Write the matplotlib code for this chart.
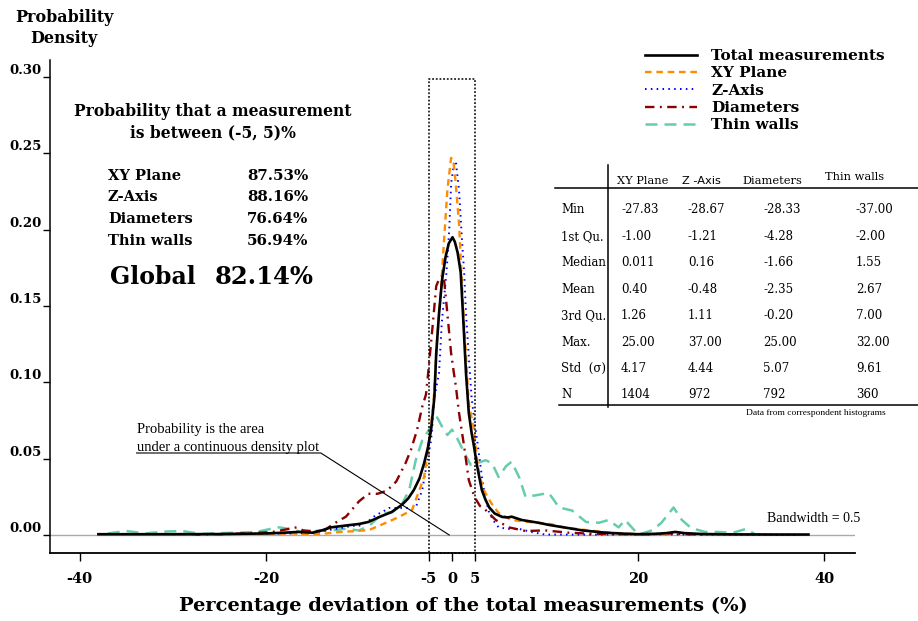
import matplotlib
matplotlib.use('Agg')
import matplotlib.pyplot as plt
from matplotlib.patches import Rectangle
from matplotlib.lines import Line2D

plt.rcParams['font.family'] = 'DejaVu Serif'
plt.rcParams['axes.unicode_minus'] = False

# ---------------- data ----------------
total_x = [-38, -30, -25, -20, -18, -16.5, -15, -14, -13, -11, -10, -9, -7.8, -6.5,
           -5.4, -4.7, -4.1, -3.5, -3, -2.6, -2.25, -1.9, -1.7, -1.4, -1.07, -0.7,
           -0.35, 0.05, 0.3, 0.6, 0.93, 1.2, 1.5, 1.8, 2.1, 2.36, 2.7, 3.2, 3.6, 4.0,
           4.6, 5.4, 6.0, 6.4, 7.0, 7.5, 8.3, 9.3, 10.5, 11.5, 12.5, 14, 16.5, 18,
           20, 22, 23, 24, 25, 27, 30, 35, 38.3]
total_y = [0.0005, 0.0005, 0.0006, 0.001, 0.0015, 0.002, 0.0015, 0.003, 0.005, 0.0065,
           0.0072, 0.0085, 0.0118, 0.015, 0.0197, 0.024, 0.0295, 0.037, 0.047, 0.057,
           0.069, 0.090, 0.119, 0.145, 0.167, 0.182, 0.191, 0.195, 0.192, 0.185, 0.172,
           0.142, 0.106, 0.080, 0.067, 0.058, 0.045, 0.0295, 0.023, 0.018, 0.014,
           0.0118, 0.0115, 0.012, 0.0108, 0.0098, 0.009, 0.008, 0.0065, 0.0055, 0.0045,
           0.003, 0.0015, 0.001, 0.0005, 0.0008, 0.0012, 0.002, 0.0012, 0.0006, 0.0004,
           0.0003, 0.0003]

xy_x = [-29.5, -25, -20, -17, -15, -13.5, -12, -10.5, -8.9, -7.1, -5.7, -4.3, -3.5, -3,
        -2.5, -2.1, -1.9, -1.6, -1.2, -0.86, -0.5, -0.1, 0.15, 0.4, 0.75, 1.1, 1.5, 1.8,
        2.36, 2.6, 2.9, 3.4, 4.2, 5.0, 6.4, 8.3, 10.0, 10.7, 12, 14.7, 17, 19, 21, 23.5]
xy_y = [0.0002, 0.0005, 0.0008, 0.001, 0.0005, 0.001, 0.002, 0.0025, 0.0033, 0.008,
        0.0118, 0.0164, 0.0295, 0.038, 0.060, 0.080, 0.095, 0.128, 0.160, 0.193, 0.226,
        0.247, 0.245, 0.230, 0.204, 0.160, 0.117, 0.086, 0.069, 0.054, 0.040, 0.0295,
        0.021, 0.0144, 0.0098, 0.0085, 0.0075, 0.007, 0.005, 0.003, 0.0015, 0.0008,
        0.0005, 0.0003]

z_x = [-30, -25, -20, -17, -15, -13.5, -12, -10.7, -10, -9, -8.2, -7.5, -6.8, -5.7,
       -4.5, -3.9, -3.2, -2.7, -2.25, -1.9, -1.4, -1.1, -0.6, -0.3, -0.1, 0.2, 0.4,
       0.75, 1.07, 1.3, 1.5, 1.8, 2.1, 2.4, 2.7, 3.0, 3.3, 3.6, 4.0, 4.5, 5.0, 6.0,
       7.2, 8.5, 10, 15, 20, 25, 30, 35, 37]
z_y = [0.0005, 0.0007, 0.0009, 0.001, 0.0012, 0.003, 0.0045, 0.006, 0.006, 0.009,
       0.013, 0.015, 0.0177, 0.0177, 0.0177, 0.018, 0.0295, 0.047, 0.062, 0.090, 0.106,
       0.139, 0.172, 0.200, 0.230, 0.243, 0.245, 0.226, 0.193, 0.172, 0.145, 0.117,
       0.090, 0.075, 0.062, 0.048, 0.034, 0.024, 0.0144, 0.009, 0.005, 0.004, 0.004,
       0.002, 0.0003, 0.0002, 0.0005, 0.0003, 0.0003, 0.0002, 0.0001]

dia_x = [-28, -25, -22, -19.3, -17.5, -16.7, -16, -14, -12.4, -11.4, -10, -9, -8, -7,
         -6, -5, -4.4, -3.75, -3.2, -2.8, -2.5, -2.1, -1.7, -1.3, -0.9, -0.5, -0.1,
         0.2, 0.4, 0.75, 1.3, 1.8, 2.4, 3.0, 3.6, 4.7, 6.1, 7.9, 10, 12.5, 15, 18, 21,
         23.6, 25, 27]
dia_y = [0.0003, 0.0005, 0.001, 0.002, 0.004, 0.005, 0.003, 0.002, 0.0085, 0.012,
         0.022, 0.027, 0.027, 0.029, 0.035, 0.047, 0.056, 0.069, 0.084, 0.092, 0.110,
         0.136, 0.163, 0.169, 0.170, 0.145, 0.119, 0.106, 0.098, 0.080, 0.058, 0.036,
         0.025, 0.019, 0.0164, 0.0098, 0.005, 0.0026, 0.003, 0.0015, 0.0008, 0.0005,
         0.0005, 0.001, 0.0005, 0.0003]

thin_x = [-37, -35, -33, -31, -29, -27, -25, -23, -21, -19.5, -18.6, -17.5, -15.7,
          -14.3, -12.9, -11.5, -10, -8.9, -7.5, -6.4, -5.4, -4.6, -3.9, -3.2, -2.25,
          -1.6, -1.07, -0.5, 0, 0.5, 1.3, 2, 2.7, 3.6, 4.3, 5, 5.8, 6.4, 7.2, 7.9, 9,
          10.4, 11.5, 12.9, 14.4, 15.8, 16.8, 17.9, 18.6, 20, 21.5, 22.5, 23.8, 24.7,
          25.7, 27.2, 28.6, 30.1, 31.6, 32.6]
thin_y = [0.001, 0.0026, 0.001, 0.0022, 0.0026, 0.0007, 0.0012, 0.0015, 0.002, 0.004,
          0.005, 0.004, 0.0013, 0.003, 0.003, 0.004, 0.003, 0.006, 0.014, 0.015, 0.020,
          0.0295, 0.049, 0.062, 0.071, 0.077, 0.071, 0.0655, 0.069, 0.064, 0.054,
          0.046, 0.047, 0.049, 0.047, 0.038, 0.045, 0.048, 0.038, 0.025, 0.026,
          0.0275, 0.018, 0.016, 0.0085, 0.008, 0.0098, 0.005, 0.0098, 0.0003, 0.003,
          0.008, 0.018, 0.0098, 0.0045, 0.002, 0.002, 0.0013, 0.004, 0.0003]

# in the reference the "-5" / "5" ticks and the box sit at +-2.5 on the drawn scale
tick_pos = [-40, -20, -2.5, 0, 2.5, 20, 40]
tick_lab = ['-40', '-20', '-5', '0', '5', '20', '40']
box_lo, box_hi = -2.5, 2.5

prob_labels = ['XY Plane', 'Z-Axis', 'Diameters', 'Thin walls']
prob_values = ['87.53%', '88.16%', '76.64%', '56.94%']
global_value = '82.14%'

table_cols = ['XY Plane', 'Z -Axis', 'Diameters', 'Thin walls']
table_rows = ['Min', '1st Qu.', 'Median', 'Mean', '3rd Qu.', 'Max.', 'Std  (σ)', 'N']
table_vals = [
    ['-27.83', '-1.00', '0.011', '0.40', '1.26', '25.00', '4.17', '1404'],
    ['-28.67', '-1.21', '0.16', '-0.48', '1.11', '37.00', '4.44', '972'],
    ['-28.33', '-4.28', '-1.66', '-2.35', '-0.20', '25.00', '5.07', '792'],
    ['-37.00', '-2.00', '1.55', '2.67', '7.00', '32.00', '9.61', '360'],
]

W, H = 918, 621


def fx(px):
    return px / W


def fy(py):
    return 1 - py / H


fig = plt.figure(figsize=(W / 100, H / 100), dpi=100, facecolor='white')
ax = fig.add_axes([fx(50), fy(553), 805 / W, 493 / H])

ax.axhline(0, color='#aaaaaa', lw=1, zorder=1)

ax.plot(total_x, total_y, color='black', lw=1.9, label='Total measurements', zorder=6)
ax.plot(xy_x, xy_y, color='darkorange', lw=1.7, dashes=(2.8, 2.0), label='XY Plane', zorder=5)
ax.plot(z_x, z_y, color='blue', lw=1.4, dashes=(0.8, 2.2), label='Z-Axis', zorder=4)
ax.plot(dia_x, dia_y, color='darkred', lw=1.7, dashes=(4.0, 2.3, 0.8, 2.3),
        label='Diameters', zorder=4)
ax.plot(thin_x, thin_y, color='mediumaquamarine', lw=1.8, dashes=(4.8, 2.8),
        label='Thin walls', zorder=3)

# dotted box around the (-5, 5) window
ax.add_patch(Rectangle((box_lo, -0.0118), box_hi - box_lo, 0.3105, fill=False, lw=1.1,
                       ls=(0, (1.2, 1.2)), ec='black', zorder=7, clip_on=False))

# annotation pointer
ax.plot([-33.9, -14.1, -0.3], [0.0537, 0.0537, 0.0], color='black', lw=0.8, zorder=8)

ax.set_xlim(-43.2, 43.3)
ax.set_ylim(-0.0118, 0.3111)
ax.spines['top'].set_visible(False)
ax.spines['right'].set_visible(False)
ax.spines['left'].set_linewidth(1.1)
ax.spines['bottom'].set_linewidth(1.3)

ax.set_xticks(tick_pos)
ax.set_xticklabels(tick_lab, fontweight='bold', fontsize=10.5)
ax.set_yticks([0, 0.05, 0.10, 0.15, 0.20, 0.25, 0.30])
ax.set_yticklabels(['0.00', '0.05', '0.10', '0.15', '0.20', '0.25', '0.30'],
                   fontweight='bold', fontsize=9.5)
for lab in ax.get_yticklabels():
    lab.set_verticalalignment('bottom')
ax.tick_params(axis='y', length=5, width=1, pad=1)
ax.tick_params(axis='x', length=6, width=1, pad=8)

ax.set_xlabel('Percentage deviation of the total measurements (%)', fontsize=14,
              fontweight='bold')
ax.xaxis.set_label_coords((463 - 50) / 805, -(606 - 553) / 493)
ax.xaxis.label.set_verticalalignment('center')
fig.text(fx(64), fy(28), 'Probability\nDensity', ha='center', va='center', fontsize=11.5,
         fontweight='bold', linespacing=1.35)

# legend
ax.legend(loc='upper left', bbox_to_anchor=(fx(645), fy(49)), bbox_transform=fig.transFigure,
          frameon=False, prop={'weight': 'bold', 'size': 11}, labelspacing=0.22,
          handlelength=3.4, handletextpad=0.95, borderpad=0, borderaxespad=0)

# probability text block
fig.text(fx(213), fy(112), 'Probability that a measurement', ha='center', va='center',
         fontsize=11.2, fontweight='bold')
fig.text(fx(213), fy(133), 'is between (-5, 5)%', ha='center', va='center',
         fontsize=11.2, fontweight='bold')
for i, (lab, val) in enumerate(zip(prob_labels, prob_values)):
    yy = [176, 197, 219, 241][i]
    fig.text(fx(108), fy(yy), lab, ha='left', va='center', fontsize=10.5, fontweight='bold')
    fig.text(fx(247), fy(yy), val, ha='left', va='center', fontsize=10.8, fontweight='bold')
fig.text(fx(110), fy(277), 'Global', ha='left', va='center', fontsize=17, fontweight='bold')
fig.text(fx(215), fy(277), global_value, ha='left', va='center', fontsize=17.5, fontweight='bold')

fig.text(fx(137), fy(430), 'Probability is the area', ha='left', va='center',
         fontsize=10.5, family='Liberation Serif')
fig.text(fx(137), fy(447), 'under a continuous density plot', ha='left', va='center',
         fontsize=10.5, family='Liberation Serif')
fig.text(fx(767), fy(519), 'Bandwidth = 0.5', ha='left', va='center', fontsize=10,
         family='Liberation Serif')

# summary table
head_x = [617, 682, 742, 825]
val_x = [621, 688, 763, 856]
row_y = [210, 236.5, 263, 289, 315.5, 342, 368, 394.5]
for j, col in enumerate(table_cols):
    fam = 'DejaVu Sans' if col.startswith('Z') else 'DejaVu Serif'
    fig.text(fx(head_x[j]), fy(181 if j < 3 else 177), col, ha='left', va='center',
             fontsize=8.2, family=fam)
for i, rname in enumerate(table_rows):
    fig.text(fx(561), fy(row_y[i]), rname, ha='left', va='center', fontsize=8.5)
    for j in range(4):
        fig.text(fx(val_x[j]), fy(row_y[i]), table_vals[j][i], ha='left', va='center',
                 fontsize=8.5)
fig.add_artist(Line2D([fx(608), fx(608)], [fy(165), fy(407)], color='black', lw=1.1))
fig.add_artist(Line2D([fx(555), fx(918)], [fy(188), fy(188)], color='black', lw=1.1))
fig.add_artist(Line2D([fx(559), fx(918)], [fy(405), fy(405)], color='black', lw=1.1))
fig.text(fx(816), fy(413), 'Data from correspondent histograms', ha='center', va='center',
         fontsize=6.8, family='Liberation Serif')

fig.savefig('out.png', dpi=100, facecolor='white')
